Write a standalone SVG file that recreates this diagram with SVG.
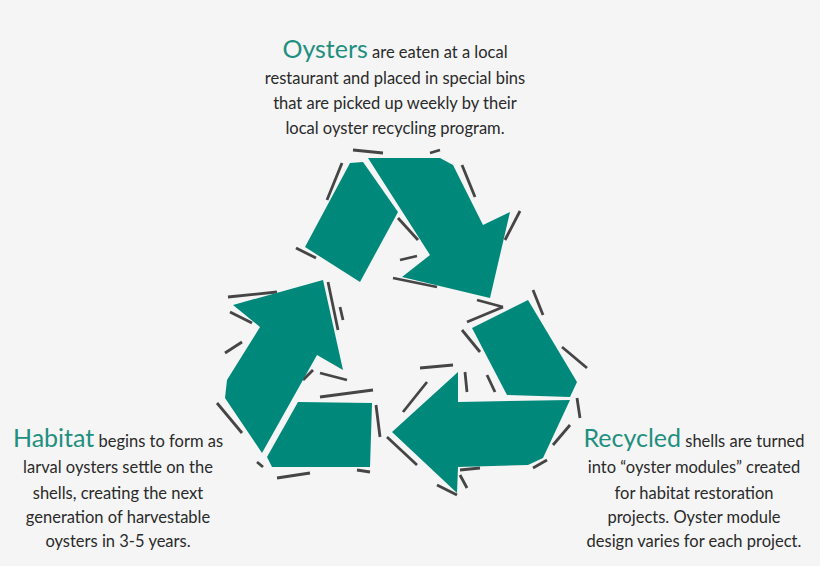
<svg xmlns="http://www.w3.org/2000/svg" width="820" height="566" viewBox="0 0 820 566">
<style>
.t{font-family:"Lato","Open Sans",sans-serif;font-size:16.5px;fill:#2a2a2a;text-anchor:middle}
.h{font-size:25px;fill:#1f8f80}
.a{fill:#00897a}
.s line{stroke:#454545;stroke-width:2.8}
</style>
<rect width="820" height="566" fill="#f5f5f5"/>
<g id="shadows" class="s">
<line x1="327" y1="200" x2="342" y2="163"/><line x1="296" y1="248" x2="316" y2="258"/>
<line x1="353" y1="150" x2="383" y2="153"/><line x1="430" y1="153" x2="440" y2="150"/>
<line x1="462" y1="165" x2="475" y2="197"/><line x1="505" y1="240" x2="520" y2="211"/>
<line x1="393" y1="278" x2="437" y2="287"/><line x1="400" y1="260" x2="417" y2="256"/>
<line x1="398" y1="218" x2="418" y2="240"/><line x1="477" y1="300" x2="503" y2="307"/>
<line x1="228" y1="297" x2="277" y2="292"/><line x1="230" y1="312" x2="252" y2="323"/>
<line x1="225" y1="353" x2="242" y2="342"/><line x1="217" y1="403" x2="242" y2="433"/>
<line x1="328" y1="282" x2="338" y2="330"/><line x1="340" y1="307" x2="343" y2="320"/>
<line x1="320" y1="373" x2="347" y2="380"/><line x1="303" y1="380" x2="313" y2="370"/>
<line x1="320" y1="397" x2="373" y2="390"/><line x1="376" y1="405" x2="380" y2="437"/>
<line x1="277" y1="478" x2="310" y2="473"/><line x1="357" y1="470" x2="370" y2="472"/>
<line x1="257" y1="462" x2="263" y2="467"/>
<line x1="467" y1="322" x2="503" y2="307"/><line x1="462" y1="330" x2="480" y2="352"/>
<line x1="533" y1="290" x2="543" y2="315"/><line x1="562" y1="347" x2="587" y2="368"/>
<line x1="577" y1="398" x2="580" y2="418"/><line x1="553" y1="445" x2="570" y2="425"/>
<line x1="533" y1="468" x2="547" y2="460"/><line x1="420" y1="368" x2="453" y2="365"/>
<line x1="403" y1="412" x2="427" y2="382"/><line x1="387" y1="437" x2="417" y2="465"/>
<line x1="460" y1="470" x2="480" y2="468"/><line x1="460" y1="475" x2="467" y2="488"/>
<line x1="487" y1="375" x2="495" y2="392"/><line x1="465" y1="372" x2="467" y2="392"/>
<line x1="437" y1="485" x2="457" y2="495"/>
</g>
<g id="arrow-top">
<polygon class="a" points="350,163 363,162 398,212 360,282 305,247"/>
<polygon class="a" points="368,158 440,158 453,165 483,225 510,212 490,298 402,277 430,255"/>
</g>
<g id="arrow-left">
<polygon class="a" points="233,305 323,280 343,370 317,355 262,453 225,398 227,380 260,327"/>
<polygon class="a" points="298,402 372,403 370,467 272,467 267,457"/>
</g>
<g id="arrow-right">
<polygon class="a" points="472,328 528,300 577,382 570,397 507,395"/>
<polygon class="a" points="458,372 458,402 570,400 543,458 528,465 458,467 457,493 392,432"/>
</g>
<g id="text-oysters" class="t">
<text x="395" y="58"><tspan class="h">Oysters</tspan> are eaten at a local</text>
<text x="395" y="84">restaurant and placed in special bins</text>
<text x="395" y="109">that are picked up weekly by their</text>
<text x="395" y="134">local oyster recycling program.</text>
</g>
<g id="text-habitat" class="t">
<text x="118" y="447"><tspan class="h">Habitat</tspan> begins to form as</text>
<text x="118" y="473">larval oysters settle on the</text>
<text x="118" y="499">shells, creating the next</text>
<text x="118" y="523">generation of harvestable</text>
<text x="118" y="547">oysters in 3-5 years.</text>
</g>
<g id="text-recycled" class="t">
<text x="694" y="447"><tspan class="h">Recycled</tspan> shells are turned</text>
<text x="694" y="473">into “oyster modules” created</text>
<text x="694" y="499">for habitat restoration</text>
<text x="694" y="523">projects. Oyster module</text>
<text x="694" y="547">design varies for each project.</text>
</g>
</svg>
